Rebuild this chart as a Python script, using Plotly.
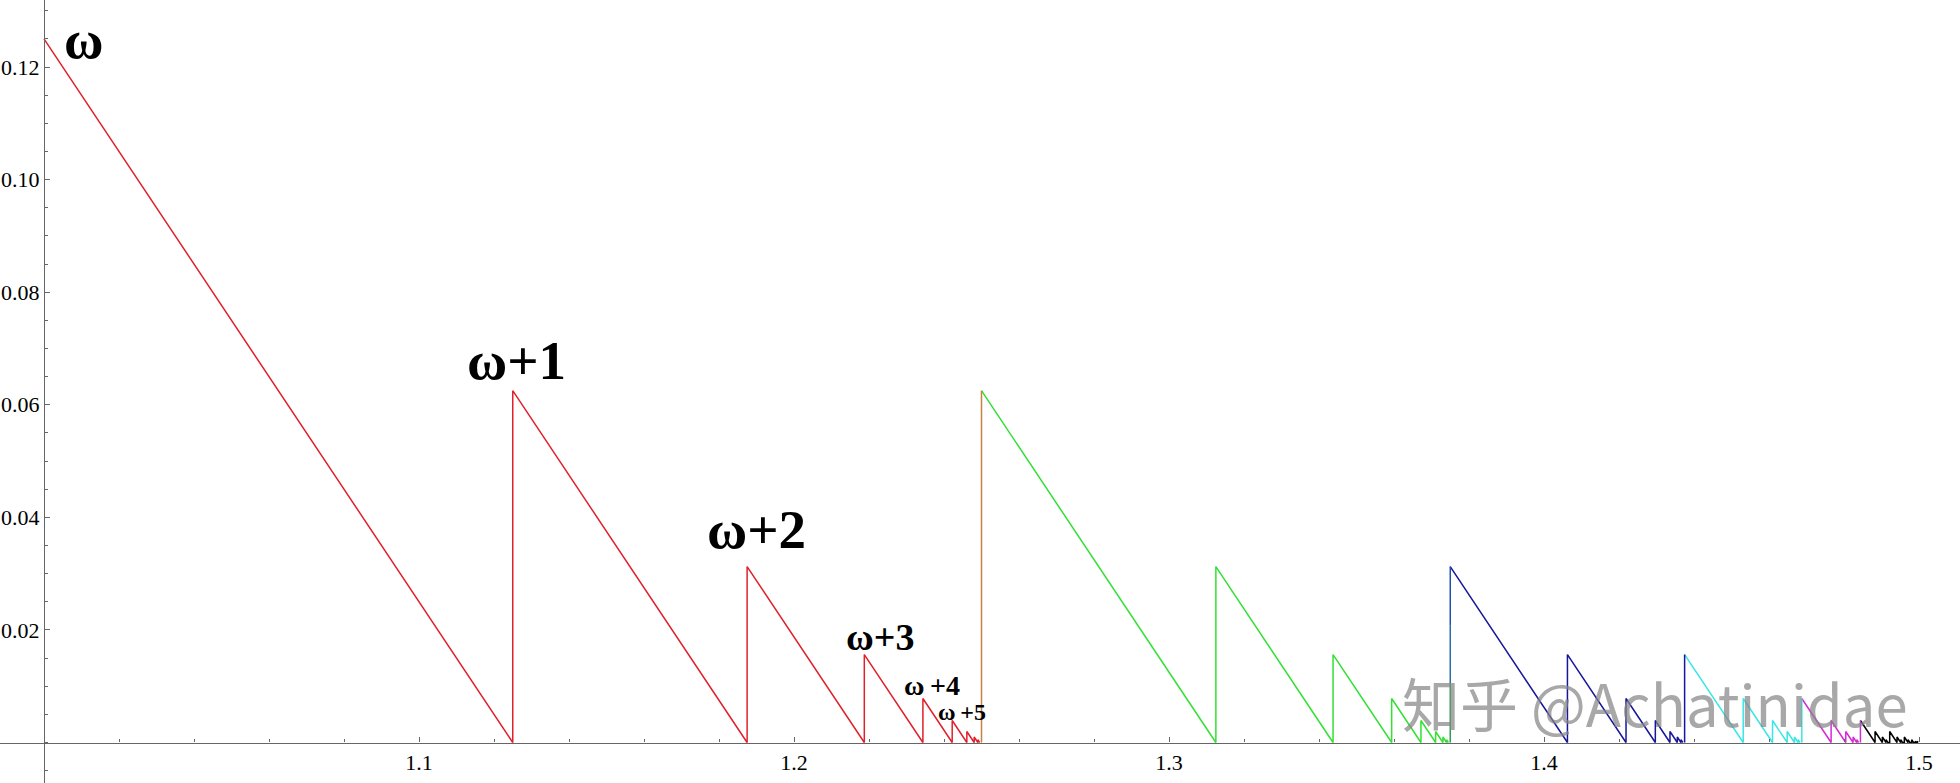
import numpy as np
import plotly.graph_objects as go

# ---------------- data: sawtooth teeth (start x, height) per colour block ----------------
red_start = [1.0, 1.125, 1.1875, 1.21875, 1.234375, 1.2421875, 1.24609375, 1.248046875, 1.2490234375]
red_height = [0.125, 0.0625, 0.03125, 0.015625, 0.0078125, 0.00390625, 0.001953125, 0.0009765625, 0.00048828125]

green_start = [1.25, 1.3125, 1.34375, 1.359375, 1.3671875, 1.37109375, 1.373046875, 1.3740234375]
green_height = [0.0625, 0.03125, 0.015625, 0.0078125, 0.00390625, 0.001953125, 0.0009765625, 0.00048828125]

blue_start = [1.375, 1.40625, 1.421875, 1.4296875, 1.43359375, 1.435546875, 1.4365234375]
blue_height = [0.03125, 0.015625, 0.0078125, 0.00390625, 0.001953125, 0.0009765625, 0.00048828125]

cyan_start = [1.4375, 1.453125, 1.4609375, 1.46484375, 1.466796875, 1.4677734375]
cyan_height = [0.015625, 0.0078125, 0.00390625, 0.001953125, 0.0009765625, 0.00048828125]

magenta_start = [1.46875, 1.4765625, 1.48046875, 1.482421875, 1.4833984375]
magenta_height = [0.0078125, 0.00390625, 0.001953125, 0.0009765625, 0.00048828125]

black_start = [1.484375, 1.48828125, 1.490234375, 1.4912109375, 1.4921875, 1.494140625,
               1.4951171875, 1.49609375, 1.4970703125, 1.498046875, 1.4990234375, 1.49951171875]
black_height = [0.00390625, 0.001953125, 0.0009765625, 0.00048828125, 0.001953125, 0.0009765625,
                0.00048828125, 0.0009765625, 0.00048828125, 0.00048828125, 0.000244140625, 0.000244140625]

# jumps between colour blocks (x, height of jump)
junction_x = [1.25, 1.375, 1.4375, 1.46875, 1.484375]
junction_h = [0.0625, 0.03125, 0.015625, 0.0078125, 0.00390625]

labels = ["ω", "ω+1", "ω+2", "ω+3", "ω\u2009+4", "ω\u2009+5"]
label_x = [1.0105, 1.1259, 1.1899, 1.2229, 1.2368, 1.2448]
label_y = [0.1248, 0.0678, 0.0378, 0.0187, 0.0101, 0.0055]
label_size = [54, 55, 55, 38, 28, 24]

xticks = [1.1, 1.2, 1.3, 1.4, 1.5]
yticks = [0.02, 0.04, 0.06, 0.08, 0.10, 0.12]

# ---------------- styles ----------------
RED, GREEN, BLUE, CYAN, MAGENTA, BLACK = "#e0212b", "#33e033", "#16169a", "#3ae6e6", "#d52ad5", "#000000"
LW = 1.5
SERIF = "Liberation Serif, Times New Roman, Times, serif"


def path(starts, heights):
    xs, ys = [], []
    for i, (s, h) in enumerate(zip(starts, heights)):
        if i > 0:
            xs.append(s); ys.append(0.0)
        xs += [s, s + h]
        ys += [h, 0.0]
    return xs, ys


fig = go.Figure()

for st, hs, col in [(red_start, red_height, RED), (green_start, green_height, GREEN),
                    (blue_start, blue_height, BLUE), (cyan_start, cyan_height, CYAN),
                    (magenta_start, magenta_height, MAGENTA), (black_start, black_height, BLACK)]:
    xs, ys = path(st, hs)
    fig.add_trace(go.Scatter(x=xs, y=ys, mode="lines", line=dict(color=col, width=LW),
                             hoverinfo="skip", showlegend=False))

# junction verticals (colour carried from the previous block / blended)
junction_cols = [["#c4843a"], ["#2aa050", "#2a70a8", "#2250b0"], [BLUE], [CYAN], [MAGENTA]]
for jx, jh, cols in zip(junction_x, junction_h, junction_cols):
    n = len(cols)
    for k, c in enumerate(cols):
        fig.add_trace(go.Scatter(x=[jx, jx], y=[jh * k / n, jh * (k + 1) / n], mode="lines",
                                 line=dict(color=c, width=LW), hoverinfo="skip", showlegend=False))

for t, lx, ly, sz in zip(labels, label_x, label_y, label_size):
    fig.add_annotation(x=lx, y=ly, xref="x", yref="y", text="<b>" + t + "</b>", showarrow=False,
                       xanchor="center", yanchor="middle",
                       font=dict(family=SERIF, size=sz, color="black"))

# watermark
fig.add_annotation(x=0.8444, y=0.104, xref="paper", yref="paper", text="知乎 @Achatinidae",
                   showarrow=False, xanchor="center", yanchor="middle",
                   font=dict(family="Noto Sans CJK SC", size=58, color="rgba(135,135,135,0.72)"))

W, H = 1960, 783
x0px, y0px = 44.0, 742.5
xscale, yscale = 3750.0, 5629.0
xr = [1.0 - x0px / xscale, 1.0 + (W - x0px) / xscale]
yr = [-(H - y0px) / yscale, y0px / yscale]

AX = "#666666"
tickfont = dict(family=SERIF, size=22, color="black")

fig.update_layout(
    width=W, height=H, margin=dict(l=0, r=0, t=0, b=0, autoexpand=False),
    paper_bgcolor="white", plot_bgcolor="white",
    xaxis=dict(range=xr, showgrid=False, zeroline=False, showline=True, linecolor=AX, linewidth=1.2,
               anchor="free", position=(H - y0px) / H, side="bottom", automargin=False,
               tickmode="array", tickvals=xticks, ticktext=[f"{v:.1f}" for v in xticks],
               ticks="inside", ticklen=5, tickcolor=AX, tickwidth=1, tickfont=tickfont,
               minor=dict(tickmode="array", tickvals=list(np.round(np.arange(1.02, 1.52, 0.02), 3)),
                          ticks="inside", ticklen=3, tickcolor=AX)),
    yaxis=dict(range=yr, showgrid=False, zeroline=False, showline=True, linecolor=AX, linewidth=1.2,
               anchor="free", position=x0px / W, side="left", automargin=False,
               tickmode="array", tickvals=yticks, ticktext=[f"{v:.2f}" for v in yticks],
               ticks="inside", ticklen=5, tickcolor=AX, tickwidth=1, tickfont=tickfont,
               minor=dict(tickmode="array", tickvals=list(np.round(np.arange(-0.005, 0.135, 0.005), 3)),
                          ticks="inside", ticklen=3, tickcolor=AX)),
)

fig.write_html("out.html", config={"displayModeBar": False},
               post_script="document.body.style.margin='0';document.body.style.overflow='hidden';")
